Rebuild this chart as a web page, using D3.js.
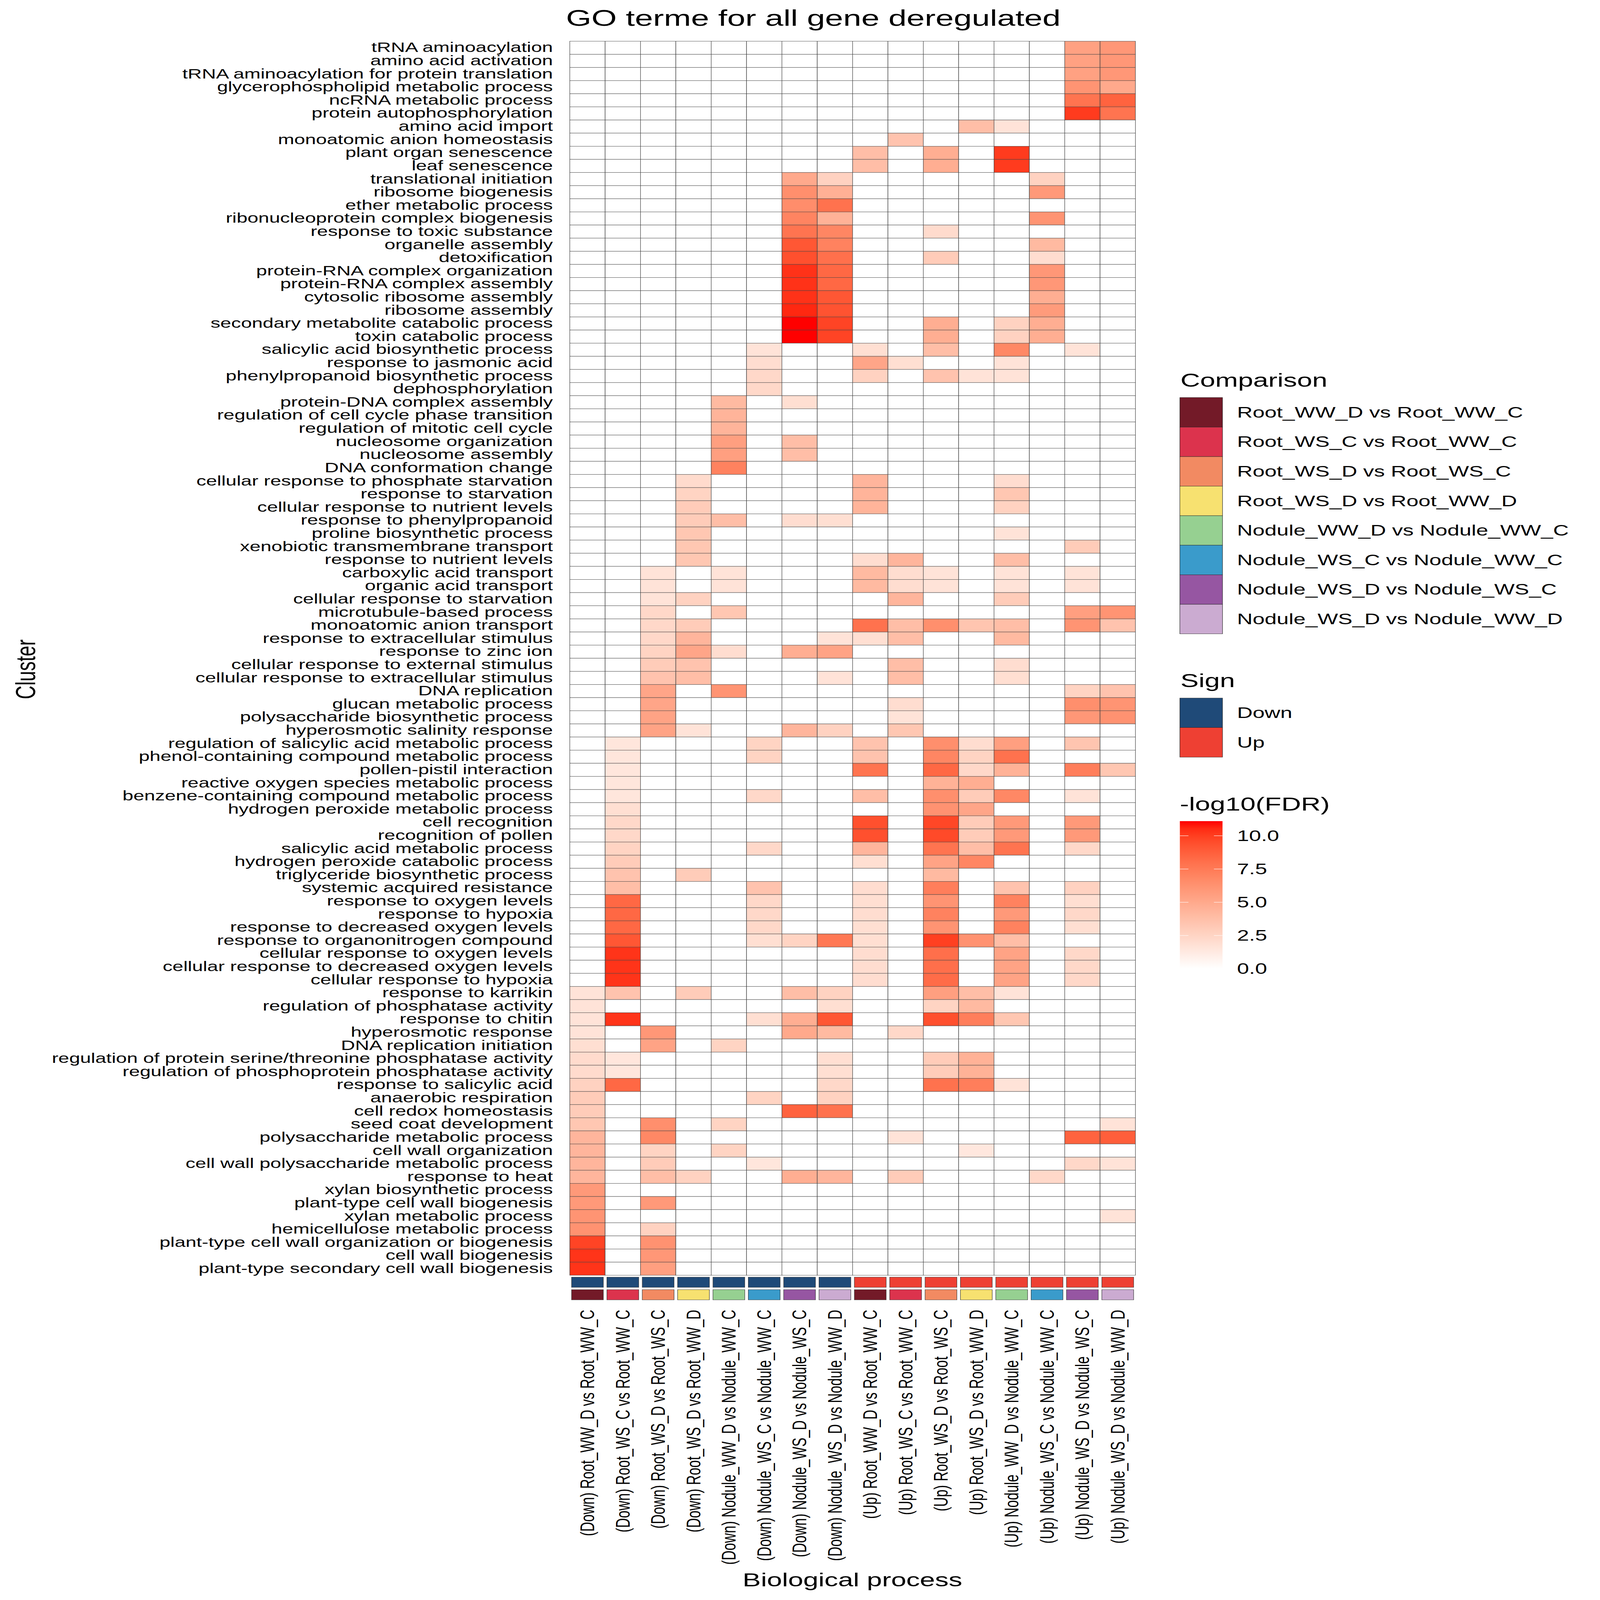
<!DOCTYPE html>
<html>
<head>
<meta charset="utf-8">
<script src="https://cdn.jsdelivr.net/npm/d3@7"></script>
<style>
  html, body { margin: 0; padding: 0; background: #fff; overflow: hidden; }
  svg { display: block; }
  text { font-family: "Liberation Sans", Arial, sans-serif; fill: #000; }
</style>
</head>
<body>
<script>
// GO terms (rows, top to bottom)
const terms = [
  "tRNA aminoacylation", "amino acid activation", "tRNA aminoacylation for protein translation",
  "glycerophospholipid metabolic process", "ncRNA metabolic process", "protein autophosphorylation",
  "amino acid import", "monoatomic anion homeostasis", "plant organ senescence", "leaf senescence",
  "translational initiation", "ribosome biogenesis", "ether metabolic process",
  "ribonucleoprotein complex biogenesis", "response to toxic substance", "organelle assembly",
  "detoxification", "protein-RNA complex organization", "protein-RNA complex assembly",
  "cytosolic ribosome assembly", "ribosome assembly", "secondary metabolite catabolic process",
  "toxin catabolic process", "salicylic acid biosynthetic process", "response to jasmonic acid",
  "phenylpropanoid biosynthetic process", "dephosphorylation", "protein-DNA complex assembly",
  "regulation of cell cycle phase transition", "regulation of mitotic cell cycle",
  "nucleosome organization", "nucleosome assembly", "DNA conformation change",
  "cellular response to phosphate starvation", "response to starvation",
  "cellular response to nutrient levels", "response to phenylpropanoid",
  "proline biosynthetic process", "xenobiotic transmembrane transport",
  "response to nutrient levels", "carboxylic acid transport", "organic acid transport",
  "cellular response to starvation", "microtubule-based process", "monoatomic anion transport",
  "response to extracellular stimulus", "response to zinc ion",
  "cellular response to external stimulus", "cellular response to extracellular stimulus",
  "DNA replication", "glucan metabolic process", "polysaccharide biosynthetic process",
  "hyperosmotic salinity response", "regulation of salicylic acid metabolic process",
  "phenol-containing compound metabolic process", "pollen-pistil interaction",
  "reactive oxygen species metabolic process", "benzene-containing compound metabolic process",
  "hydrogen peroxide metabolic process", "cell recognition", "recognition of pollen",
  "salicylic acid metabolic process", "hydrogen peroxide catabolic process",
  "triglyceride biosynthetic process", "systemic acquired resistance",
  "response to oxygen levels", "response to hypoxia", "response to decreased oxygen levels",
  "response to organonitrogen compound", "cellular response to oxygen levels",
  "cellular response to decreased oxygen levels", "cellular response to hypoxia",
  "response to karrikin", "regulation of phosphatase activity", "response to chitin",
  "hyperosmotic response", "DNA replication initiation",
  "regulation of protein serine/threonine phosphatase activity",
  "regulation of phosphoprotein phosphatase activity", "response to salicylic acid",
  "anaerobic respiration", "cell redox homeostasis", "seed coat development",
  "polysaccharide metabolic process", "cell wall organization",
  "cell wall polysaccharide metabolic process", "response to heat",
  "xylan biosynthetic process", "plant-type cell wall biogenesis", "xylan metabolic process",
  "hemicellulose metabolic process", "plant-type cell wall organization or biogenesis",
  "cell wall biogenesis", "plant-type secondary cell wall biogenesis"
];

const signs = ["Down", "Up"];
const comparisons = [
  "Root_WW_D vs Root_WW_C", "Root_WS_C vs Root_WW_C", "Root_WS_D vs Root_WS_C",
  "Root_WS_D vs Root_WW_D", "Nodule_WW_D vs Nodule_WW_C", "Nodule_WS_C vs Nodule_WW_C",
  "Nodule_WS_D vs Nodule_WS_C", "Nodule_WS_D vs Nodule_WW_D"
];
const fdrTicks = [0, 2.5, 5, 7.5, 10];

// -log10(FDR), one row per term, 16 columns: Down x 8 comparisons, then Up x 8
const logFdr = [
  [0,0,0,0,0,0,0,0,0,0,0,0,0,0,5.45,6.0],
  [0,0,0,0,0,0,0,0,0,0,0,0,0,0,5.45,6.0],
  [0,0,0,0,0,0,0,0,0,0,0,0,0,0,5.45,6.0],
  [0,0,0,0,0,0,0,0,0,0,0,0,0,0,6.15,5.0],
  [0,0,0,0,0,0,0,0,0,0,0,0,0,0,7.8,8.6],
  [0,0,0,0,0,0,0,0,0,0,0,0,0,0,10.1,7.8],
  [0,0,0,0,0,0,0,0,0,0,0,3.8,1.65,0,0,0],
  [0,0,0,0,0,0,0,0,0,3.5,0,0,0,0,0,0],
  [0,0,0,0,0,0,0,0,3.8,0,4.75,0,10.1,0,0,0],
  [0,0,0,0,0,0,0,0,3.8,0,4.75,0,10.1,0,0,0],
  [0,0,0,0,0,0,5.0,2.65,0,0,0,0,0,2.65,0,0],
  [0,0,0,0,0,0,6.45,4.6,0,0,0,0,0,5.9,0,0],
  [0,0,0,0,0,0,6.55,7.9,0,0,0,0,0,0,0,0],
  [0,0,0,0,0,0,7.0,4.5,0,0,0,0,0,6.15,0,0],
  [0,0,0,0,0,0,7.8,6.9,0,0,2.15,0,0,0,0,0],
  [0,0,0,0,0,0,9.1,7.1,0,0,0,0,0,4.05,0,0],
  [0,0,0,0,0,0,9.4,8.0,0,0,3.0,0,0,2.0,0,0],
  [0,0,0,0,0,0,10.35,8.35,0,0,0,0,0,6.0,0,0],
  [0,0,0,0,0,0,10.35,8.35,0,0,0,0,0,6.0,0,0],
  [0,0,0,0,0,0,10.35,9.1,0,0,0,0,0,4.75,0,0],
  [0,0,0,0,0,0,10.6,9.25,0,0,0,0,0,5.8,0,0],
  [0,0,0,0,0,0,11.1,9.8,0,0,4.75,0,2.65,4.75,0,0],
  [0,0,0,0,0,0,11.1,9.8,0,0,4.75,0,2.65,4.75,0,0],
  [0,0,0,0,0,1.65,0,0,1.9,0,3.8,0,6.8,0,1.65,0],
  [0,0,0,0,0,2.0,0,0,5.2,1.9,0,0,1.65,0,0,0],
  [0,0,0,0,0,2.3,0,0,2.65,0,3.5,1.65,1.65,0,0,0],
  [0,0,0,0,0,2.3,0,0,0,0,0,0,0,0,0,0],
  [0,0,0,0,4.05,0,1.9,0,0,0,0,0,0,0,0,0],
  [0,0,0,0,4.4,0,0,0,0,0,0,0,0,0,0,0],
  [0,0,0,0,4.4,0,0,0,0,0,0,0,0,0,0,0],
  [0,0,0,0,5.55,0,3.8,0,0,0,0,0,0,0,0,0],
  [0,0,0,0,5.55,0,3.8,0,0,0,0,0,0,0,0,0],
  [0,0,0,0,7.1,0,0,0,0,0,0,0,0,0,0,0],
  [0,0,0,2.15,0,0,0,0,4.3,0,0,0,2.0,0,0,0],
  [0,0,0,2.55,0,0,0,0,4.4,0,0,0,3.3,0,0,0],
  [0,0,0,3.0,0,0,0,0,4.4,0,0,0,2.65,0,0,0],
  [0,0,0,3.0,3.8,0,2.0,1.9,0,0,0,0,0,0,0,0],
  [0,0,0,3.3,0,0,0,0,0,0,0,0,1.65,0,0,0],
  [0,0,0,3.3,0,0,0,0,0,0,0,0,0,0,3.0,0],
  [0,0,0,3.3,0,0,0,0,2.0,4.3,0,0,3.8,0,0,0],
  [0,0,1.65,0,1.65,0,0,0,4.05,2.0,1.65,0,1.65,0,1.65,0],
  [0,0,1.65,0,1.65,0,0,0,4.05,2.0,1.65,0,1.65,0,1.65,0],
  [0,0,1.65,2.65,0,0,0,0,0,4.3,0,0,3.0,0,0,0],
  [0,0,2.3,0,3.3,0,0,0,0,0,0,0,0,0,5.55,6.15],
  [0,0,2.3,3.0,0,0,0,0,7.9,3.8,6.45,3.4,3.8,0,6.15,3.5],
  [0,0,2.3,4.3,0,0,0,1.65,1.9,3.8,0,0,4.05,0,0,0],
  [0,0,2.55,5.2,2.0,0,4.75,5.35,0,0,0,0,0,0,0,0],
  [0,0,3.0,3.5,0,0,0,0,0,3.8,0,0,2.0,0,0,0],
  [0,0,3.5,3.8,0,0,0,1.65,0,3.8,0,0,1.9,0,0,0],
  [0,0,5.2,0,6.15,0,0,0,0,0,0,0,0,0,2.55,3.5],
  [0,0,5.2,0,0,0,0,0,0,2.0,0,0,0,0,6.45,6.15],
  [0,0,5.35,0,0,0,0,0,0,1.65,0,0,0,0,6.0,6.25],
  [0,0,5.35,1.65,0,0,4.3,2.65,0,3.3,0,0,0,0,0,0],
  [0,1.5,0,0,0,2.55,0,0,3.5,0,6.45,2.0,5.55,0,3.4,0],
  [0,1.5,0,0,0,2.55,0,0,3.5,0,6.9,2.55,7.9,0,0,0],
  [0,1.5,0,0,0,0,0,0,7.8,0,8.35,2.3,4.5,0,7.3,3.3],
  [0,1.5,0,0,0,0,0,0,0,0,4.5,4.75,0,0,0,0],
  [0,1.5,0,0,0,2.3,0,0,3.8,0,6.45,3.0,6.8,0,1.65,0],
  [0,1.9,0,0,0,0,0,0,0,0,6.25,5.2,0,0,0,0],
  [0,2.3,0,0,0,0,0,0,9.4,0,9.7,3.0,5.9,0,5.9,0],
  [0,2.3,0,0,0,0,0,0,9.4,0,9.6,3.0,5.9,0,5.9,0],
  [0,2.55,0,0,0,2.3,0,0,4.3,0,7.8,3.8,7.8,0,2.3,0],
  [0,3.0,0,0,0,0,0,0,1.9,0,5.35,6.9,0,0,0,0],
  [0,3.5,0,3.0,0,0,0,0,0,0,4.05,0,0,0,0,0],
  [0,3.8,0,0,0,3.5,0,0,2.0,0,7.3,0,3.5,0,2.65,0],
  [0,8.35,0,0,0,2.3,0,0,1.9,0,6.15,0,7.1,0,1.9,0],
  [0,8.35,0,0,0,2.3,0,0,2.0,0,7.1,0,5.9,0,2.3,0],
  [0,8.35,0,0,0,2.3,0,0,1.9,0,6.15,0,7.1,0,1.9,0],
  [0,9.1,0,0,0,1.9,2.55,7.6,1.9,0,9.95,6.25,3.8,0,0,0],
  [0,10.3,0,0,0,0,0,0,2.0,0,8.05,0,5.35,0,2.3,0],
  [0,10.3,0,0,0,0,0,0,2.0,0,8.05,0,5.35,0,2.3,0],
  [0,10.3,0,0,0,0,0,0,2.0,0,8.2,0,5.35,0,2.3,0],
  [1.65,3.5,0,3.0,0,0,3.8,2.65,0,0,5.55,3.8,1.65,0,0,0],
  [1.65,0,0,0,0,0,0,1.9,0,0,2.55,4.05,0,0,0,0],
  [1.65,10.3,0,0,0,1.9,4.75,9.1,0,0,9.4,7.3,3.3,0,0,0],
  [1.65,0,6.0,0,0,0,5.0,4.05,0,2.3,0,0,0,0,0,0],
  [1.9,0,5.35,0,2.55,0,0,0,0,0,0,0,0,0,0,0],
  [2.15,1.5,0,0,0,0,0,1.9,0,0,3.0,4.5,0,0,0,0],
  [2.15,1.5,0,0,0,0,0,1.9,0,0,3.0,4.5,0,0,0,0],
  [2.65,8.35,0,0,0,0,0,2.3,0,0,7.9,7.3,1.65,0,0,0],
  [3.0,0,0,0,0,2.55,0,2.65,0,0,0,0,0,0,0,0],
  [3.0,0,0,0,0,0,8.6,7.9,0,0,0,0,0,0,0,0],
  [3.3,0,6.45,0,2.55,0,0,0,0,0,0,0,0,0,0,1.65],
  [4.3,0,6.8,0,0,0,0,0,0,1.65,0,0,0,0,8.6,8.8],
  [4.3,0,2.55,0,2.55,0,0,0,0,0,0,1.4,0,0,0,0],
  [4.3,0,3.0,0,0,1.5,0,0,0,0,0,0,0,0,2.3,1.65],
  [4.3,0,3.8,2.65,0,0,4.75,4.3,0,3.0,0,0,0,2.3,0,0],
  [5.9,0,0,0,0,0,0,0,0,0,0,0,0,0,0,0],
  [5.9,0,5.9,0,0,0,0,0,0,0,0,0,0,0,0,0],
  [6.15,0,0,0,0,0,0,0,0,0,0,0,0,0,0,1.65],
  [6.25,0,2.65,0,0,0,0,0,0,0,0,0,0,0,0,0],
  [9.8,0,6.25,0,0,0,0,0,0,0,0,0,0,0,0,0],
  [10.3,0,6.0,0,0,0,0,0,0,0,0,0,0,0,0,0],
  [10.3,0,5.55,0,0,0,0,0,0,0,0,0,0,0,0,0]
];

const signColors = ["#1F4A78", "#EE4033"];
const comparisonColors = ["#731A28", "#DC334D", "#F28A62", "#F7E170",
                          "#96D091", "#3A9BCB", "#9656A2", "#CBABD1"];

// columns: every sign x every comparison
const columns = [];
signs.forEach(s => comparisons.forEach(c => columns.push({sign: s, comp: c, label: `(${s}) ${c}`})));

const cells = [];
terms.forEach((t, i) => columns.forEach((c, j) => cells.push({term: t, col: c.label, value: logFdr[i][j]})));

// drawing is laid out on a 5400 x 7800 canvas, then fitted to the window
const W = 5400, H = 7800;
const AX = 66, LEG = 73, TITLE = 92;

const svg = d3.select("body").append("svg")
  .attr("width", window.innerWidth || W)
  .attr("height", window.innerHeight || H)
  .attr("viewBox", `0 0 ${W} ${H}`)
  .attr("preserveAspectRatio", "none");
svg.append("rect").attr("width", W).attr("height", H).attr("fill", "#fff");

const x = d3.scaleBand().domain(columns.map(c => c.label)).range([1923, 3832]);
const y = d3.scaleBand().domain(terms).range([201, 6217]);

const maxVal = d3.max(cells, d => d.value);
const color = d3.scaleLinear().domain([0, maxVal]).range(["#ffffff", "#ff0000"])
  .interpolate(d3.interpolateLab);

// heatmap cells
svg.append("g").selectAll("rect")
  .data(cells).join("rect")
  .attr("x", d => x(d.col))
  .attr("y", d => y(d.term))
  .attr("width", x.bandwidth())
  .attr("height", y.bandwidth())
  .attr("fill", d => color(d.value))
  .attr("stroke", "#444")
  .attr("stroke-width", 1.6);

// annotation strips under the heatmap
const tileW = x.bandwidth() * 0.9;
const strips = svg.append("g");
strips.selectAll(".sign").data(columns).join("rect")
  .attr("class", "sign")
  .attr("x", d => x(d.label) + (x.bandwidth() - tileW) / 2)
  .attr("y", 6226).attr("width", tileW).attr("height", 50)
  .attr("fill", d => signColors[signs.indexOf(d.sign)])
  .attr("stroke", "#333").attr("stroke-width", 1.5);
strips.selectAll(".comp").data(columns).join("rect")
  .attr("class", "comp")
  .attr("x", d => x(d.label) + (x.bandwidth() - tileW) / 2)
  .attr("y", 6287).attr("width", tileW).attr("height", 50)
  .attr("fill", d => comparisonColors[comparisons.indexOf(d.comp)])
  .attr("stroke", "#333").attr("stroke-width", 1.5);

// y axis labels
const yAxis = d3.axisLeft(y).tickSize(0).tickPadding(0);
const gy = svg.append("g").attr("transform", "translate(1866,0)").call(yAxis);
gy.select(".domain").remove();
gy.selectAll("text").attr("font-size", AX).attr("fill", "#000")
  .style("font-family", "'Liberation Sans', Arial, sans-serif");

// x axis labels, rotated
const xAxis = d3.axisBottom(x).tickSize(0).tickPadding(0);
const gx = svg.append("g").attr("transform", "translate(0,6385)").call(xAxis);
gx.select(".domain").remove();
gx.selectAll("text")
  .attr("font-size", AX).attr("fill", "#000")
  .style("font-family", "'Liberation Sans', Arial, sans-serif")
  .attr("text-anchor", "end")
  .attr("dy", null)
  .attr("y", 0).attr("x", 0)
  .attr("dominant-baseline", "central")
  .attr("transform", "rotate(-90)");

// titles
svg.append("text").attr("x", 2745).attr("y", 126).attr("text-anchor", "middle")
  .attr("font-size", 110).text("GO terme for all gene deregulated");
svg.append("text").attr("x", 2877).attr("y", 7733).attr("text-anchor", "middle")
  .attr("font-size", TITLE).text("Biological process");
svg.append("text").attr("transform", "translate(118,3263) rotate(-90)")
  .attr("text-anchor", "middle").attr("font-size", TITLE).text("Cluster");

// legends
const legX = 3982, key = 144, labX = 4175;

function discreteLegend(title, names, colors, titleY) {
  const g = svg.append("g");
  g.append("text").attr("x", legX + 2).attr("y", titleY).attr("font-size", TITLE).text(title);
  const top = titleY + 53;
  g.selectAll("rect").data(names).join("rect")
    .attr("x", legX).attr("y", (d, i) => top + i * key)
    .attr("width", key).attr("height", key)
    .attr("fill", (d, i) => colors[i])
    .attr("stroke", "#222").attr("stroke-width", 1.5);
  g.selectAll(".lab").data(names).join("text")
    .attr("class", "lab")
    .attr("x", labX).attr("y", (d, i) => top + i * key + key / 2)
    .attr("dominant-baseline", "central")
    .attr("font-size", LEG).text(d => d);
}
discreteLegend("Comparison", comparisons, comparisonColors, 1885);
discreteLegend("Sign", signs, signColors, 3350);

// colour bar
const barTop = 4003, barH = 720;
const yBar = d3.scaleLinear().domain([0, maxVal]).range([barTop + barH, barTop]);
svg.append("text").attr("x", legX).attr("y", 3952).attr("font-size", TITLE).text("-log10(FDR)");
const grad = svg.append("defs").append("linearGradient")
  .attr("id", "fdrGrad").attr("x1", 0).attr("y1", 1).attr("x2", 0).attr("y2", 0);
d3.range(0, 1.0001, 0.05).forEach(t => {
  grad.append("stop").attr("offset", t).attr("stop-color", color(t * maxVal));
});
svg.append("rect").attr("x", legX).attr("y", barTop).attr("width", key).attr("height", barH)
  .attr("fill", "url(#fdrGrad)");
const ticks = svg.append("g");
fdrTicks.forEach(v => {
  const yy = yBar(v);
  ticks.append("line").attr("x1", legX).attr("x2", legX + 29).attr("y1", yy).attr("y2", yy)
    .attr("stroke", "#fff").attr("stroke-width", 2);
  ticks.append("line").attr("x1", legX + key - 29).attr("x2", legX + key).attr("y1", yy).attr("y2", yy)
    .attr("stroke", "#fff").attr("stroke-width", 2);
  ticks.append("text").attr("x", labX).attr("y", yy).attr("dominant-baseline", "central")
    .attr("font-size", LEG).text(v.toFixed(1));
});
</script>
</body>
</html>
